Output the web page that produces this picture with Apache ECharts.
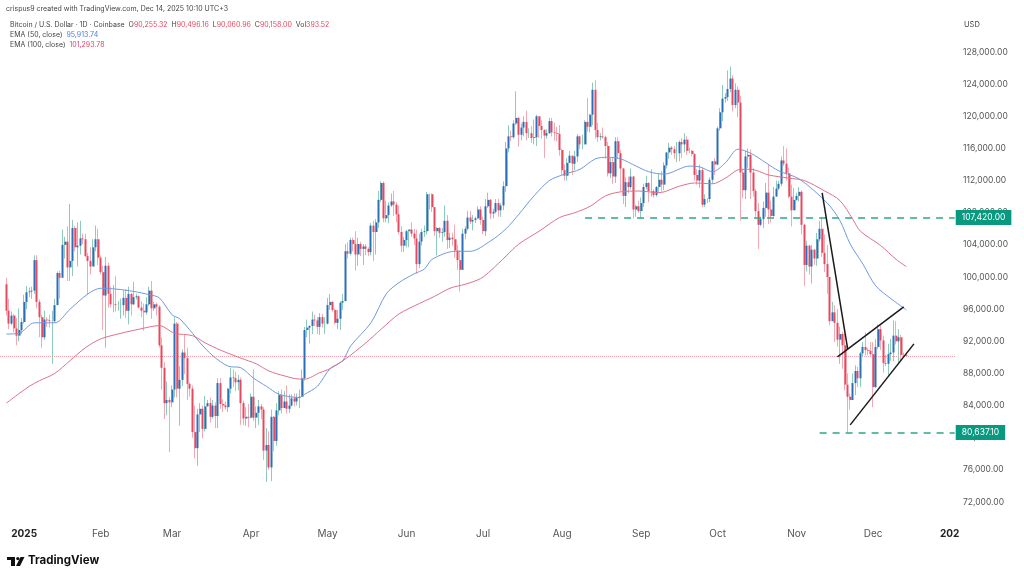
<!DOCTYPE html>
<html>
<head>
<meta charset="utf-8">
<title>Bitcoin / U.S. Dollar</title>
<script src="https://cdn.jsdelivr.net/npm/echarts@6/dist/echarts.min.js"></script>
<style>
html,body{margin:0;padding:0;background:#fff;}
#chart{width:1024px;height:579px;}
</style>
</head>
<body>
<div id="chart"></div>
<script>
// one row per month, Dec 26 2024 -> Dec 14 2025
var firstOpen = 99100;
var closes = [
95800,94200,95200,93600,92700,93400,
94400,96900,98100,98200,98300,102100,96900,95000,92500,94700,94600,94500,94500,96500,100500,99900,104000,104400,101200,102000,106100,103700,103900,104800,104700,102600,102000,101300,103700,104700,102400,
100600,97700,101400,97900,96600,96600,96500,96500,96500,97400,95800,97900,96600,97500,97600,96200,95800,95600,96600,98300,96100,96600,96300,91500,88700,84300,84700,84400,
86000,94200,86100,87200,90600,89900,86700,86100,80700,78700,82900,83600,81100,83900,84300,82600,84000,82700,86800,84200,84000,83800,86100,87500,87400,86900,87200,84300,82400,82600,82500,
85100,82500,83100,83900,83500,78400,79100,76300,82600,79600,83400,85300,83700,84500,83600,84000,84900,84500,85000,85100,87400,93400,93700,93900,94700,94600,93800,95000,94200,94200,
96500,96900,95900,94300,94800,96800,97000,103200,102900,104600,104100,102800,104100,103500,103800,103500,103100,106400,105600,106800,109600,111700,107300,107700,108900,109400,109000,107800,105600,103900,104600,
105700,105900,105400,104800,101600,104400,105600,105700,110300,110300,108700,105700,106100,105500,105600,107000,104600,104900,104700,103300,102100,100900,105400,106000,107400,106900,107100,107300,108400,107100,
105700,108800,109600,107900,108100,109200,108300,108900,111300,116000,117500,117400,119100,119800,117700,118600,119300,117900,117900,117300,117400,120000,118800,118300,117600,117900,119400,118000,117900,117800,115800,
113300,112600,114200,115100,114100,115000,117500,116500,116500,119300,118700,120200,123300,118300,117400,117500,117400,116300,112900,114300,112500,116900,115400,113500,110100,111800,111200,112500,108400,108800,108200,
109200,111200,111700,110700,110700,110200,111200,112100,111500,113900,115500,116100,115900,115400,115400,116800,116500,117100,115700,115700,115300,112700,112000,113300,109000,109700,109700,112100,114400,114000,
118500,120500,122200,122400,123400,124700,121400,123300,121700,113000,110800,115000,115200,113000,110700,108200,106500,107200,108600,110500,108400,107600,110000,111000,111600,114500,114100,112900,110000,108300,109600,
110100,110600,106500,101500,103900,101300,103400,102300,104700,106000,103000,101600,100000,94500,95600,94300,92200,92900,91500,86600,85100,84700,86800,88300,87400,90500,91300,90900,90800,90400,
86300,91300,93500,92100,89300,89200,90400,90600,92700,92000,92500,90300,90255,90158
];
var highs = [
99900,97300,95700,95400,94900,96100,
94900,97800,98900,98700,98800,102700,102700,97200,95300,95800,95000,95300,95800,97300,100700,100800,105900,105000,106300,109100,107100,106300,106800,107000,105400,105400,103000,103700,104700,106400,106000,
102700,101400,102500,101800,98800,99000,100100,97000,97300,98300,98500,98800,98000,99400,97900,97700,97000,96700,97500,98800,99500,96900,96800,96500,92500,89400,87000,85100,
86500,95000,94400,88900,91000,92800,91200,86900,86500,84000,83600,84300,84000,85200,84700,85000,84700,84400,87400,87400,84800,84500,86200,88700,88500,88200,87800,87500,84600,83800,84200,
85500,88500,83900,84700,84200,83800,81200,80800,83500,82700,84300,85800,86000,85800,86500,85400,85400,85500,85500,86000,88500,93800,94700,94000,95700,95300,95000,95500,95400,95000,
97400,97900,97000,96100,95900,97000,97900,104100,104300,104900,104900,105700,104900,104400,104100,104100,103700,106700,107000,107200,110700,111900,111900,109500,109300,110400,110700,109300,108900,106300,105000,
105900,105900,106800,106000,105900,105400,106000,106400,110600,110400,110400,108500,106200,106200,106100,108900,107700,105500,105500,106500,104000,103300,106000,106300,108200,108200,107700,107500,108800,108800,
107500,109700,110500,109700,108500,109700,109700,109200,111900,116800,118900,118200,119500,123100,119900,119100,120000,120700,118500,118800,119600,120200,120000,119500,118400,118400,119800,119800,119200,118700,118900,
116000,114000,114800,115700,115100,115700,117800,117600,117700,119500,122300,120300,124200,124500,119200,117900,118600,117600,116800,114800,114800,117400,117400,115800,113600,112400,112500,113500,112600,109000,109500,
109900,111600,112600,111800,113400,110900,111300,112900,113200,114300,115500,116700,116300,116300,116800,117000,117300,117900,117500,116100,115800,115400,113400,114000,113600,110300,109800,112400,114400,114800,
118700,121000,123900,122900,125700,126200,125100,124100,123700,122500,113400,115700,116000,115900,113600,111000,109200,107500,109400,111700,114000,109500,111200,112000,112000,115000,116300,116000,113600,111500,111100,
110500,111200,110800,106600,104500,104000,104000,103500,105500,107000,107500,105300,104000,99800,96900,96500,96000,93800,93200,93000,88000,85500,88000,89000,88800,90700,91900,93100,91200,91900,
91900,92300,94100,94000,92700,90300,91700,92300,94600,94500,93500,92800,90600,90496
];
var lows = [
95200,93500,94000,93100,91500,92000,
92900,94200,96000,97500,97300,97900,96100,92500,91200,92200,93800,93700,89200,94300,96500,97300,100000,102300,99500,99500,100100,103200,101300,102800,104100,102500,97800,100300,101400,103200,101500,
100300,93400,91200,96200,96200,95600,95700,95800,94800,95200,94900,94100,95200,96500,97200,96100,95000,93300,95300,96400,94800,95800,95200,91200,86000,82300,82800,78200,
83800,85000,85000,81500,86400,87900,84700,85100,80000,77400,76500,80700,79900,80800,83900,81900,82400,81200,81200,83600,83200,83500,83200,85500,86300,85800,85900,81600,81600,81500,81300,
82400,82100,81200,81600,82300,77200,74500,76000,74600,78300,79000,82800,83000,83700,83000,83100,83900,83900,84000,83700,85100,87100,92500,91700,92900,93900,92900,92800,93700,92900,
94100,95900,95700,94100,93500,93400,95900,97000,102300,102700,103200,100800,101400,102600,101500,102700,102600,102700,102000,102800,106100,109300,106800,106800,106700,108700,107600,106800,105300,103100,103100,
103700,103700,105000,104000,100400,101100,103900,105000,105300,108400,108100,105100,102700,104900,104400,105000,103500,103600,103900,102400,100900,98200,100900,104700,105800,106600,105800,106700,107200,106500,
105300,105100,108600,107200,107300,107900,107500,107500,108300,110600,115500,116900,117200,118900,116200,117000,117500,117000,117300,116700,116500,116300,117300,117200,114800,117200,117800,117500,117000,116900,115100,
112700,112000,112000,114200,112700,113300,114300,115900,115900,116500,118100,118000,118900,117200,116800,117000,117200,114700,112500,112300,111600,111700,114700,110700,109100,108700,110400,110900,107300,107500,108000,
107300,108700,110900,109300,110000,109900,110000,110600,110600,110800,113500,114700,115200,114700,114300,114400,114800,115500,115200,115400,115000,112000,111500,111100,108700,108700,109200,109300,111600,112700,
113900,118200,119400,121700,121900,123000,120600,121000,119900,107000,109800,109700,113600,109700,110000,107500,103500,106300,106100,107500,106600,106800,107500,110200,110800,111300,113800,112000,109800,106300,108300,
109500,109400,105300,98900,100700,100300,99200,101500,101400,104400,102500,100600,97900,94000,94900,91900,91300,89200,88600,85900,80637,83500,84700,85300,86300,86300,90000,90200,90300,90200,
83800,86200,91000,90900,88100,88900,87700,89600,89500,91600,89300,89500,90000,90060
];

// EMA values, day = position in the category list
var ema50Days = [2,7,13,21,27,34,39,45,52,58,62,67,70,75,78,83,89,94,99,104,109,117,119,124,129,134,137,145,151,156,162,166,169,178,184,192,198,203,209,215,221,227,233,238,243,249,254,260,270,274,279,284,289,294,300,305,313,324,329,333,338,343,349,355];
var ema50Vals = [92900,93000,94300,94300,96000,97900,98600,98500,98200,97800,97400,95300,94800,93000,91800,90200,88900,88700,87400,86400,85400,85000,85400,86400,88600,89600,91400,94300,97900,99300,100400,101000,102200,103200,103200,104500,106000,107800,110100,112000,112800,113400,114700,114900,114700,113800,113100,112800,113800,113700,113100,114200,115900,115400,114200,113200,112200,109200,107000,104100,101600,98900,97300,95914];
var ema100Days = [2,7,11,15,21,27,33,39,47,54,62,68,75,80,86,94,100,105,111,117,119,125,129,135,143,149,156,164,170,176,182,188,192,198,203,211,219,225,231,237,243,250,258,266,272,279,284,290,294,301,309,315,323,329,334,337,345,351,355];
var ema100Vals = [84300,85500,86400,87100,88000,89600,91200,92300,93000,93500,93950,93000,92700,91800,90900,89900,89200,88300,87700,87300,87300,88100,88600,89800,91800,93500,95400,96700,97600,98600,99100,99800,100800,102600,104100,105700,107400,108000,108800,110100,110600,110700,110500,111300,111700,111600,112300,113400,113400,112700,112300,112000,110700,109500,107200,105700,103900,102200,101294];

var tickDates = ['2025-01-01','2025-02-01','2025-03-01','2025-04-01','2025-05-01','2025-06-01','2025-07-01','2025-08-01','2025-09-01','2025-10-01','2025-11-01','2025-12-01','2026-01-01'];
var tickNames = ['2025','Feb','Mar','Apr','May','Jun','Jul','Aug','Sep','Oct','Nov','Dec','202'];

var support = 80637.10;
var resistance = 107420.00;
var lastPrice = 90158;

// hand drawn lines: [day, price]
var flagPole = [[322,110460],[332,91050]];
var wedgeTop = [[328,90060],[354,96280]];
var wedgeBottom = [[333,81600],[358,91680]];

var UP = '#2a6fb8', DOWN = '#e6485f', UP_WICK = '#8ecbbb', DOWN_WICK = '#f3a9b4', GREEN = '#2fa58a';
var FONT = 'Inter, "Liberation Sans", sans-serif';

// category list, Dec 24 2024 to Jan 2 2026, a few empty days each side
var days = [];
var d = new Date(Date.UTC(2024, 11, 24));
for (var i = 0; i < 375; i++) {
	days.push(d.toISOString().slice(0, 10));
	d.setUTCDate(d.getUTCDate() + 1);
}
var pad = 2; // candles start on Dec 26

var wicks = [], bodies = [];
for (var i = 0; i < days.length; i++) {
	if (i < pad || i - pad >= closes.length) {
		wicks.push('-');
		bodies.push('-');
		continue;
	}
	var k = i - pad;
	var o = k == 0 ? firstOpen : closes[k - 1];
	var c = closes[k];
	wicks.push([o, c, lows[k], highs[k]]);
	bodies.push([o, c, Math.min(o, c), Math.max(o, c)]);
}

function zip(a, b) {
	var out = [];
	for (var i = 0; i < a.length; i++) out.push([a[i], b[i]]);
	return out;
}

function trendLine(pts) {
	return {
		type: 'line', data: pts, symbol: 'none', silent: true, z: 6,
		lineStyle: {color: '#1a1a1a', width: 1.5}
	};
}

function levelLine(price, startDay, text) {
	return [
		{
			coord: [startDay, price],
			lineStyle: {color: GREEN, type: [7, 6], width: 1.5},
			label: {
				show: true, position: 'end', distance: 1, formatter: text,
				color: '#fff', backgroundColor: '#089981', padding: [3, 6, 3, 6],
				fontSize: 8.5, fontFamily: FONT
			}
		},
		{coord: [374, price]}
	];
}

var chart = echarts.init(document.getElementById('chart'));
chart.setOption({
	animation: false,
	backgroundColor: '#fff',
	grid: {left: 0, right: 68, top: 52, height: 450},
	xAxis: {
		type: 'category',
		data: days,
		boundaryGap: true,
		axisLine: {show: false},
		axisTick: {show: false},
		splitLine: {show: false},
		axisLabel: {
			margin: 27,
			hideOverlap: false,
			interval: function (i, v) { return tickDates.indexOf(v) >= 0; },
			formatter: function (v) {
				var n = tickNames[tickDates.indexOf(v)];
				if (n == '2025') return '{a|' + n + '}';
				if (n == '202') return '{b|' + n + '}';
				return n;
			},
			color: '#555',
			fontSize: 10,
			fontFamily: FONT,
			rich: {
				a: {fontWeight: 'bold', color: '#222', fontSize: 10, fontFamily: FONT, padding: [0, 0, 0, 5]},
				b: {fontWeight: 'bold', color: '#222', fontSize: 10, fontFamily: FONT, padding: [0, 5, 0, 0]}
			}
		}
	},
	yAxis: {
		type: 'value',
		position: 'right',
		min: 72000,
		max: 128000,
		interval: 4000,
		axisLine: {show: false},
		axisTick: {show: false},
		splitLine: {show: false},
		axisLabel: {
			margin: 7,
			color: '#555',
			fontSize: 8.5,
			fontFamily: FONT,
			formatter: function (v) {
				return v.toLocaleString('en-US', {minimumFractionDigits: 2, maximumFractionDigits: 2});
			}
		}
	},
	series: [
		{
			name: 'last price', type: 'line', data: [], silent: true, z: 1,
			markLine: {
				silent: true, symbol: 'none', animation: false, z: 1,
				data: [{
					yAxis: lastPrice,
					label: {show: false},
					lineStyle: {color: '#f4a0ad', type: 'dotted', width: 1}
				}]
			}
		},
		{
			name: 'wicks', type: 'candlestick', data: wicks, barWidth: 1, silent: true, z: 2,
			itemStyle: {color: UP_WICK, color0: DOWN_WICK, borderColor: UP_WICK, borderColor0: DOWN_WICK, borderWidth: 1}
		},
		{
			name: 'bodies', type: 'candlestick', data: bodies, barWidth: 2.5, silent: true, z: 3,
			itemStyle: {color: UP, color0: DOWN, borderColor: UP, borderColor0: DOWN, borderWidth: 0}
		},
		{
			name: 'EMA 50', type: 'line', data: zip(ema50Days, ema50Vals), symbol: 'none', smooth: 0.3, silent: true, z: 4,
			lineStyle: {color: '#6f9ade', width: 1}
		},
		{
			name: 'EMA 100', type: 'line', data: zip(ema100Days, ema100Vals), symbol: 'none', smooth: 0.3, silent: true, z: 4,
			lineStyle: {color: '#de7289', width: 1}
		},
		trendLine(flagPole),
		trendLine(wedgeTop),
		trendLine(wedgeBottom),
		{
			name: 'levels', type: 'line', data: [], silent: true, z: 7,
			markLine: {
				silent: true, symbol: 'none', animation: false,
				data: [
					levelLine(resistance, 229, '107,420.00'),
					levelLine(support, 321, '80,637.10')
				]
			}
		}
	],
	graphic: [
		{
			type: 'text', left: 6, top: 5, silent: true,
			style: {text: 'crispus9 created with TradingView.com, Dec 14, 2025 10:10 UTC+3', fill: '#444', font: '7px ' + FONT}
		},
		{
			type: 'text', left: 10, top: 21, silent: true,
			style: {
				text: 'Bitcoin / U.S. Dollar · 1D · Coinbase  O{r|90,255.32}  H{r|90,496.16}  L{r|90,060.96}  C{r|90,158.00}  Vol{r|393.52}',
				fill: '#444', font: '7px ' + FONT,
				rich: {r: {fill: '#e6485f', font: '7px ' + FONT}}
			}
		},
		{
			type: 'text', left: 10, top: 31, silent: true,
			style: {
				text: 'EMA (50, close)  {b|95,913.74}', fill: '#444', font: '7px ' + FONT,
				rich: {b: {fill: '#4f7fd8', font: '7px ' + FONT}}
			}
		},
		{
			type: 'text', left: 10, top: 41, silent: true,
			style: {
				text: 'EMA (100, close)  {r|101,293.78}', fill: '#444', font: '7px ' + FONT,
				rich: {r: {fill: '#d9476b', font: '7px ' + FONT}}
			}
		},
		{
			type: 'text', left: 964, top: 21, silent: true,
			style: {text: 'USD', fill: '#444', font: '7.5px ' + FONT}
		},
		// TradingView logo
		{type: 'polygon', silent: true, shape: {points: [[7,557],[15,557],[15,566],[11,566],[11,560],[7,560]]}, style: {fill: '#111'}},
		{type: 'circle', silent: true, shape: {cx: 17.8, cy: 558.6, r: 1.6}, style: {fill: '#111'}},
		{type: 'polygon', silent: true, shape: {points: [[20.5,557],[24.5,557],[20,566],[16,566]]}, style: {fill: '#111'}},
		{
			type: 'text', left: 28, top: 555, silent: true,
			style: {text: 'TradingView', fill: '#111', font: 'bold 11.5px ' + FONT}
		}
	]
});
</script>
</body>
</html>
